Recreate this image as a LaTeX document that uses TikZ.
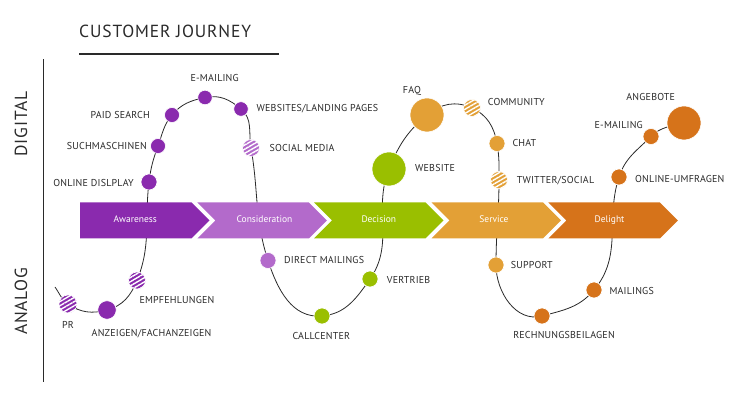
\documentclass[tikz,border=0pt]{standalone}
\usepackage{fontspec}
\setmainfont{PT Sans}
\usetikzlibrary{patterns.meta}

\definecolor{aware}{HTML}{8A2AAE}
\definecolor{consid}{HTML}{B36ACB}
\definecolor{decis}{HTML}{9ABF00}
\definecolor{serv}{HTML}{E3A036}
\definecolor{delig}{HTML}{D6731A}
\definecolor{txt}{HTML}{2A2A2A}

\tikzset{
  dot/.style={circle, fill=#1, draw=white, line width=0.6pt, inner sep=0pt, minimum size=16pt},
  bigdot/.style={dot=#1, minimum size=34pt},
  hatchdot/.style={circle, draw=white, line width=0.6pt, inner sep=0pt, minimum size=17pt,
    preaction={fill=#1}, pattern={Lines[angle=30,distance=3.6pt,line width=1.4pt]}, pattern color=white},
  lbl/.style={font=\fontsize{10}{12}\selectfont\addfontfeatures{LetterSpace=2}, text=txt, inner sep=0pt, text height=7pt, text depth=0pt},
  phase/.style={font=\fontsize{9.5}{11}\selectfont, text=white, inner sep=0pt, text height=6.7pt, text depth=0pt},
  big/.style={font=\fontsize{17.5}{20}\selectfont\addfontfeatures{LetterSpace=5}, text=txt, inner sep=0pt, text height=12.3pt, text depth=0pt},
  curve/.style={draw=txt, line width=0.8pt}
}

\begin{document}
\begin{tikzpicture}[x=1pt, y=1pt]
	\useasboundingbox (0,0) rectangle (737,411);

		% titre
		\node[big, anchor=west] (title) at (79,380) {CUSTOMER JOURNEY};
		\draw[txt, line width=1.2pt] (79,357) -- (279,357);

		% axe digital / analog
		\draw[txt, line width=1.2pt] (43.7,351.7) -- (43.7,28.7);
		\node[big, rotate=90] (digital) at (21,287) {DIGITAL};
		\node[big, rotate=90] (analog) at (21,109.7) {ANALOG};

		% points du parcours
		\coordinate (start) at (55,124);
		\coordinate (pr) at (68,107);
		\coordinate (anz) at (107,101);
		\coordinate (empf) at (137,130.5);
		\coordinate (odisp) at (149,229);
		\coordinate (such) at (158,265);
		\coordinate (paid) at (172,296);
		\coordinate (mailA) at (205,313.5);
		\coordinate (webs) at (241,302);
		\coordinate (socm) at (251,263);
		\coordinate (dmail) at (268,150.5);
		\coordinate (call) at (322,95);
		\coordinate (vert) at (370,132);
		\coordinate (website) at (389,242);
		\coordinate (faq) at (427,296);
		\coordinate (comm) at (472,303);
		\coordinate (chat) at (497,267.5);
		\coordinate (twit) at (499,231);
		\coordinate (supp) at (496,146);
		\coordinate (rech) at (542,95);
		\coordinate (mailB) at (594,121);
		\coordinate (umf) at (619,234);
		\coordinate (mailC) at (651,274.5);
		\coordinate (ang) at (684,288);

		% courbe
		\draw[curve]
			(start) to [out=-55, in=145] (pr)
			to [out=-35, in=195] (anz)
			to [out=15, in=248] (empf)
			to [out=68, in=263] (odisp)
			to [out=83, in=250] (such)
			to [out=70, in=230] (paid)
			to [out=50, in=192] (mailA)
			to [out=12, in=140] (webs)
			to [out=-40, in=100] (socm)
			to [out=-80, in=108] (dmail)
			to [out=-72, in=185] (call)
			to [out=5, in=235] (vert)
			to [out=55, in=248] (website)
			to [out=68, in=220] (faq)
			to [out=40, in=155] (comm)
			to [out=-25, in=100] (chat)
			to [out=-80, in=90] (twit)
			to [out=-90, in=90] (supp)
			to [out=-90, in=195] (rech)
			to [out=15, in=230] (mailB)
			to [out=50, in=252] (umf)
			to [out=72, in=225] (mailC)
			to [out=45, in=195] (ang);

		% fleches des phases
		\fill[aware] (80,208.5) -- (191.5,208.5) -- (209.5,190.5) -- (191.5,172.5) -- (80,172.5) -- cycle;
		\fill[consid] (197.3,208.5) -- (308.8,208.5) -- (326.8,190.5) -- (308.8,172.5) -- (197.3,172.5) -- (215.3,190.5) -- cycle;
		\fill[decis] (314,208.5) -- (425.5,208.5) -- (443.5,190.5) -- (425.5,172.5) -- (314,172.5) -- (332,190.5) -- cycle;
		\fill[serv] (431.5,208.5) -- (543,208.5) -- (561,190.5) -- (543,172.5) -- (431.5,172.5) -- (449.5,190.5) -- cycle;
		\fill[delig] (548.3,208.5) -- (659.8,208.5) -- (677.8,190.5) -- (659.8,172.5) -- (548.3,172.5) -- (566.3,190.5) -- cycle;

		\node[phase] (awareness) at (135.3,191.5) {Awareness};
		\node[phase] (consideration) at (264.5,191.5) {Consideration};
		\node[phase] (decision) at (378.8,191.5) {Decision};
		\node[phase] (service) at (494,191.5) {Service};
		\node[phase] (delight) at (609.5,191.5) {Delight};

		% cercles
		\node[hatchdot=aware, minimum size=18pt] (prdot) at (pr) {};
		\node[dot=aware, minimum size=18.5pt] (anzdot) at (anz) {};
		\node[hatchdot=aware] (empfdot) at (empf) {};
		\node[dot=aware] (odispdot) at (odisp) {};
		\node[dot=aware, minimum size=15pt] (suchdot) at (such) {};
		\node[dot=aware, minimum size=15pt] (paiddot) at (paid) {};
		\node[dot=aware, minimum size=14.5pt] (mailAdot) at (mailA) {};
		\node[dot=aware, minimum size=14.5pt] (websdot) at (webs) {};
		\node[hatchdot=consid] (socmdot) at (socm) {};
		\node[dot=consid] (dmaildot) at (dmail) {};
		\node[dot=decis] (calldot) at (call) {};
		\node[dot=decis] (vertdot) at (vert) {};
		\node[bigdot=decis] (websitedot) at (website) {};
		\node[bigdot=serv] (faqdot) at (faq) {};
		\node[hatchdot=serv] (commdot) at (comm) {};
		\node[dot=serv] (chatdot) at (chat) {};
		\node[hatchdot=serv] (twitdot) at (twit) {};
		\node[dot=serv] (suppdot) at (supp) {};
		\node[dot=delig] (rechdot) at (rech) {};
		\node[dot=delig] (mailBdot) at (mailB) {};
		\node[dot=delig] (umfdot) at (umf) {};
		\node[dot=delig] (mailCdot) at (mailC) {};
		\node[bigdot=delig] (angdot) at (ang) {};

		% legendes
		\node[lbl, anchor=east] (paidL) at (150,296) {PAID SEARCH};
		\node[lbl, anchor=east] (suchL) at (147,265) {SUCHMASCHINEN};
		\node[lbl, anchor=east] (odispL) at (134,228) {ONLINE DISLPLAY};
		\node[lbl] (mailAL) at (214.7,333) {E-MAILING};
		\node[lbl, anchor=west] (websL) at (256.5,303.3) {WEBSITES/LANDING PAGES};
		\node[lbl, anchor=west] (socmL) at (269.3,262.7) {SOCIAL MEDIA};
		\node[lbl] (prL) at (68,85.5) {PR};
		\node[lbl, anchor=west] (anzL) at (91.5,78) {ANZEIGEN/FACHANZEIGEN};
		\node[lbl, anchor=west] (empfL) at (139.3,111) {EMPFEHLUNGEN};
		\node[lbl, anchor=west] (dmailL) at (284,151) {DIRECT MAILINGS};
		\node[lbl, anchor=west] (vertL) at (386.7,130.5) {VERTRIEB};
		\node[lbl] (callL) at (321.3,74.5) {CALLCENTER};
		\node[lbl] (faqL) at (412,320.5) {FAQ};
		\node[lbl, anchor=west] (websiteL) at (415,242.5) {WEBSITE};
		\node[lbl, anchor=west] (commL) at (487.7,308.5) {COMMUNITY};
		\node[lbl, anchor=west] (chatL) at (512.3,267.5) {CHAT};
		\node[lbl, anchor=west] (twitL) at (516.7,231) {TWITTER/SOCIAL};
		\node[lbl, anchor=west] (suppL) at (510.7,146) {SUPPORT};
		\node[lbl, anchor=west] (mailBL) at (609.3,120) {MAILINGS};
		\node[lbl] (rechL) at (564,75.5) {RECHNUNGSBEILAGEN};
		\node[lbl, anchor=west] (umfL) at (635,232) {ONLINE-UMFRAGEN};
		\node[lbl, anchor=east] (mailCL) at (643,286) {E-MAILING};
		\node[lbl] (angL) at (650.7,314.3) {ANGEBOTE};

	\end{tikzpicture}
\end{document}
